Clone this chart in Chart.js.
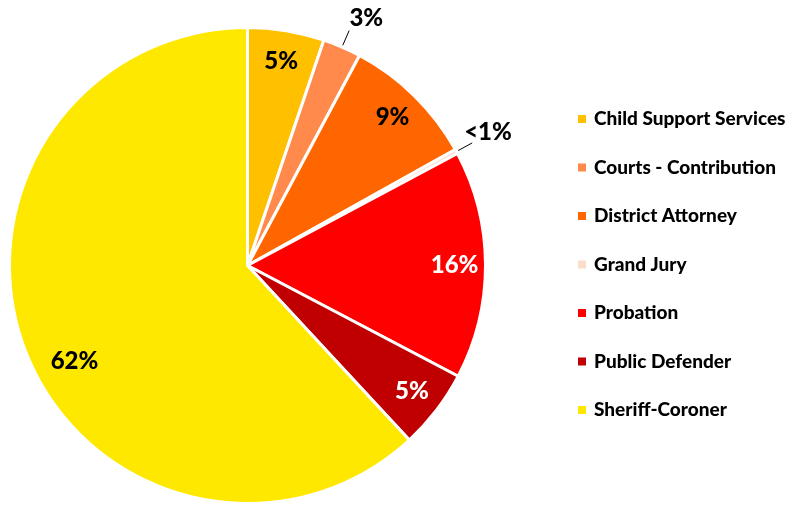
<!DOCTYPE html>
<html>
<head>
<meta charset="utf-8">
<script src="https://cdn.jsdelivr.net/npm/chart.js@4"></script>
<style>
  html, body { margin: 0; padding: 0; background: #fff; }
  #wrap { width: 796px; height: 508px; }
</style>
</head>
<body>
<div id="wrap"><canvas id="pieChart"></canvas></div>
<script>
// Departments and share of total (percent)
const categories = ['Child Support Services', 'Courts - Contribution', 'District Attorney', 'Grand Jury', 'Probation', 'Public Defender', 'Sheriff-Coroner'];
const shares = [5.2, 2.6, 9.1, 0.3, 15.5, 5.4, 61.9];
const shareLabels = ['5%', '3%', '9%', '<1%', '16%', '5%', '62%'];
const colors = ['#FFC000', '#FF8A4B', '#FF6600', '#FCDDCB', '#FF0000', '#C00000', '#FFE800'];

const FONT = 'Lato, "Liberation Sans", sans-serif';

// draws percentage labels; small slices go outside with a leader line
const sliceLabels = {
    id: 'sliceLabels',
    afterDatasetsDraw(chart) {
        const { ctx } = chart;
        const arcs = chart.getDatasetMeta(0).data;
        ctx.save();
        ctx.font = '900 24px ' + FONT;
        ctx.textAlign = 'center';
        ctx.textBaseline = 'middle';
        arcs.forEach((arc, i) => {
            const { x, y, startAngle, endAngle, outerRadius } = arc.getProps(['x', 'y', 'startAngle', 'endAngle', 'outerRadius'], true);
            let mid = (startAngle + endAngle) / 2;
            const outside = shares[i] < 4;
            if (i === 6) mid -= 0.13; // sheriff label sits a bit higher than the middle
            if (outside) {
                ctx.strokeStyle = '#000';
                ctx.lineWidth = 1;
                ctx.beginPath();
                ctx.moveTo(x + Math.cos(mid) * (outerRadius + 2), y + Math.sin(mid) * (outerRadius + 2));
                ctx.lineTo(x + Math.cos(mid) * (outerRadius + 18), y + Math.sin(mid) * (outerRadius + 18));
                ctx.stroke();
                const r = outerRadius + 36;
                const nx = i === 1 ? 10 : 0, ny = i === 1 ? 4 : -2;
                ctx.fillStyle = '#000';
                ctx.fillText(shareLabels[i], x + Math.cos(mid) * r + nx, y + Math.sin(mid) * r + ny);
            } else {
                const r = outerRadius * (i === 6 ? 0.83 : 0.87);
                ctx.fillStyle = (i === 4 || i === 5) ? '#fff' : '#000';
                ctx.fillText(shareLabels[i], x + Math.cos(mid) * r, y + Math.sin(mid) * r);
            }
        });
        ctx.restore();
    }
};

// legend drawn to the right of the pie
const sideLegend = {
    id: 'sideLegend',
    afterDraw(chart) {
        const { ctx } = chart;
        ctx.save();
        ctx.font = '900 19px ' + FONT;
        ctx.textAlign = 'left';
        ctx.textBaseline = 'middle';
        chart.data.labels.forEach((label, i) => {
            const yy = 119 + i * 48.5;
            ctx.fillStyle = chart.data.datasets[0].backgroundColor[i];
            ctx.fillRect(578, yy - 4, 8, 8);
            ctx.fillStyle = '#000';
            ctx.fillText(label, 594, yy);
        });
        ctx.restore();
    }
};

new Chart(document.getElementById('pieChart').getContext('2d'), {
    type: 'pie',
    data: {
        labels: categories,
        datasets: [{
            data: shares,
            backgroundColor: colors,
            borderColor: '#fff',
            borderWidth: 3
        }]
    },
    options: {
        responsive: true,
        maintainAspectRatio: false,
        animation: false,
        layout: { padding: { left: 8, right: 309, top: 26, bottom: 3 } },
        plugins: {
            legend: { display: false },
            tooltip: { enabled: false }
        }
    },
    plugins: [sliceLabels, sideLegend]
});
</script>
</body>
</html>
